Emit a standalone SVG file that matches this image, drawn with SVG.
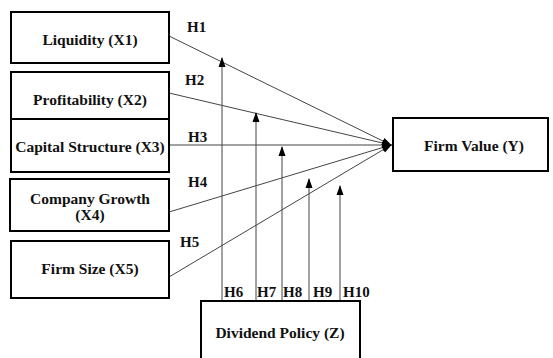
<svg xmlns="http://www.w3.org/2000/svg" width="553" height="358" viewBox="0 0 553 358">
<style>
.box{fill:#fff;stroke:#000;stroke-width:2}
.t{font-family:"Liberation Serif","Times New Roman",serif;font-weight:bold;font-size:15.5px;fill:#111;text-anchor:middle}
.h{font-family:"Liberation Serif","Times New Roman",serif;font-weight:bold;font-size:15px;fill:#111}
.c{stroke:#444;stroke-width:1;fill:none}
</style>
<defs>
<marker id="ah" markerUnits="userSpaceOnUse" markerWidth="10" markerHeight="10" viewBox="0 0 10 10" refX="9" refY="5" orient="auto">
<path d="M0,1.5 L10,5 L0,8.5 Z" fill="#000"/>
</marker>
</defs>
<rect width="553" height="358" fill="#fff"/>
<g id="connectors">
<line class="c" x1="169" y1="36" x2="391" y2="145" marker-end="url(#ah)"/>
<line class="c" x1="169" y1="93" x2="391" y2="145" marker-end="url(#ah)"/>
<line class="c" x1="169" y1="145" x2="391" y2="145" marker-end="url(#ah)"/>
<line class="c" x1="169" y1="212" x2="391" y2="145" marker-end="url(#ah)"/>
<line class="c" x1="169" y1="277" x2="391" y2="145" marker-end="url(#ah)"/>
<line class="c" x1="222" y1="301" x2="222" y2="58" marker-end="url(#ah)"/>
<line class="c" x1="256" y1="301" x2="256" y2="113" marker-end="url(#ah)"/>
<line class="c" x1="282" y1="301" x2="282" y2="147" marker-end="url(#ah)"/>
<line class="c" x1="309" y1="301" x2="309" y2="179" marker-end="url(#ah)"/>
<line class="c" x1="340" y1="301" x2="340" y2="186" marker-end="url(#ah)"/>
<text class="h" x="187" y="32">H1</text>
<text class="h" x="185" y="85">H2</text>
<text class="h" x="188" y="142">H3</text>
<text class="h" x="188" y="187">H4</text>
<text class="h" x="180" y="247">H5</text>
<text class="h" x="224" y="297">H6</text>
<text class="h" x="257" y="297">H7</text>
<text class="h" x="283" y="297">H8</text>
<text class="h" x="313" y="297">H9</text>
<text class="h" x="343" y="297">H10</text>
</g>
<g id="liquidity"><rect class="box" x="11" y="12" width="158" height="51"/><text class="t" x="90" y="45">Liquidity (X1)</text></g>
<g id="profitability"><rect class="box" x="11" y="72" width="158" height="47"/><text class="t" x="90" y="105">Profitability (X2)</text></g>
<g id="capital"><rect class="box" x="11" y="119" width="158" height="53"/><text class="t" x="90" y="152">Capital Structure (X3)</text></g>
<g id="growth"><rect class="box" x="10" y="179" width="159" height="52"/><text class="t" x="90" y="204">Company Growth</text><text class="t" x="90" y="220">(X4)</text></g>
<g id="size"><rect class="box" x="11" y="241" width="158" height="57"/><text class="t" x="90" y="274">Firm Size (X5)</text></g>
<g id="firmvalue"><rect class="box" x="393" y="118" width="155" height="53"/><text class="t" x="474" y="151">Firm Value (Y)</text></g>
<g id="dividend"><rect class="box" x="201" y="301" width="159" height="62"/><text class="t" x="280" y="338">Dividend Policy (Z)</text></g>
</svg>
